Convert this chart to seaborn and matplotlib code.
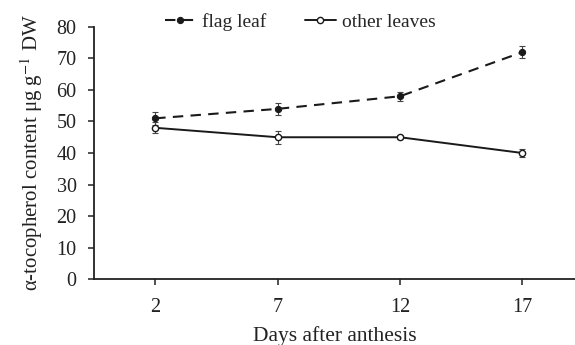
import matplotlib
matplotlib.use("Agg")
import matplotlib.pyplot as plt
import seaborn as sns
import pandas as pd

days = ["2", "7", "12", "17"]
flag_leaf = [51, 54, 58, 72]
flag_err = [2.0, 2.0, 1.5, 1.8]
other_leaves = [48, 45, 45, 40]
other_err = [1.8, 2.0, 0.6, 1.3]
yticks = [0, 10, 20, 30, 40, 50, 60, 70, 80]

sns.set_style("ticks")
plt.rcParams['font.family'] = ['Liberation Serif', 'DejaVu Serif']
plt.rcParams['mathtext.fontset'] = 'stix'

fig = plt.figure(figsize=(5.75, 3.45), dpi=100)
ax = fig.add_axes([0.1635, 0.191, 0.8365, 0.731])

pos = list(range(len(days)))
df = pd.DataFrame({"pos": pos * 2,
                   "val": flag_leaf + other_leaves,
                   "series": ["flag leaf"] * 4 + ["other leaves"] * 4})

sns.lineplot(data=df[df.series == "flag leaf"], x="pos", y="val", ax=ax,
             color="#1a1a1a", linestyle=(0, (5, 3.5)), linewidth=1.5,
             marker="o", markersize=4.5, markerfacecolor="#1a1a1a",
             markeredgecolor="#1a1a1a", label="flag leaf", zorder=3)
sns.lineplot(data=df[df.series == "other leaves"], x="pos", y="val", ax=ax,
             color="#1a1a1a", linestyle="-", linewidth=1.4,
             marker="o", markersize=4.5, markerfacecolor="white",
             markeredgecolor="#1a1a1a", markeredgewidth=1.0,
             label="other leaves", zorder=3)
ax.errorbar(pos, flag_leaf, yerr=flag_err, fmt="none", ecolor="#444444",
            elinewidth=0.8, capsize=2, capthick=0.8, zorder=2)
ax.errorbar(pos, other_leaves, yerr=other_err, fmt="none", ecolor="#444444",
            elinewidth=0.8, capsize=2, capthick=0.8, zorder=2)

ax.set_xlim(-0.5, 3.43)
ax.set_ylim(0, 80)
ax.set_xticks(pos)
ax.set_xticklabels(days)
ax.set_yticks(yticks)
ax.tick_params(axis="both", labelsize=14.5, direction="out", length=4.5,
               width=1.1, color="#222222", labelcolor="#222222")
ax.tick_params(axis="y", pad=8)
ax.tick_params(axis="x", pad=9)
for s in ["top", "right"]:
    ax.spines[s].set_visible(False)
for s in ["left", "bottom"]:
    ax.spines[s].set_linewidth(1.3)
    ax.spines[s].set_color("#222222")

ax.set_xlabel("Days after anthesis", fontsize=15.5, color="#222222", labelpad=7)
ax.set_ylabel(r"α-tocopherol content μg g$^{-1}$ DW", fontsize=15,
              color="#222222", labelpad=8)

ax.legend(loc="center", bbox_to_anchor=(0.522, 0.936), bbox_transform=fig.transFigure,
          ncol=2, frameon=False, fontsize=14, handlelength=1.6,
          handletextpad=0.3, columnspacing=2.0, borderpad=0)

fig.savefig("out.png", dpi=100)
